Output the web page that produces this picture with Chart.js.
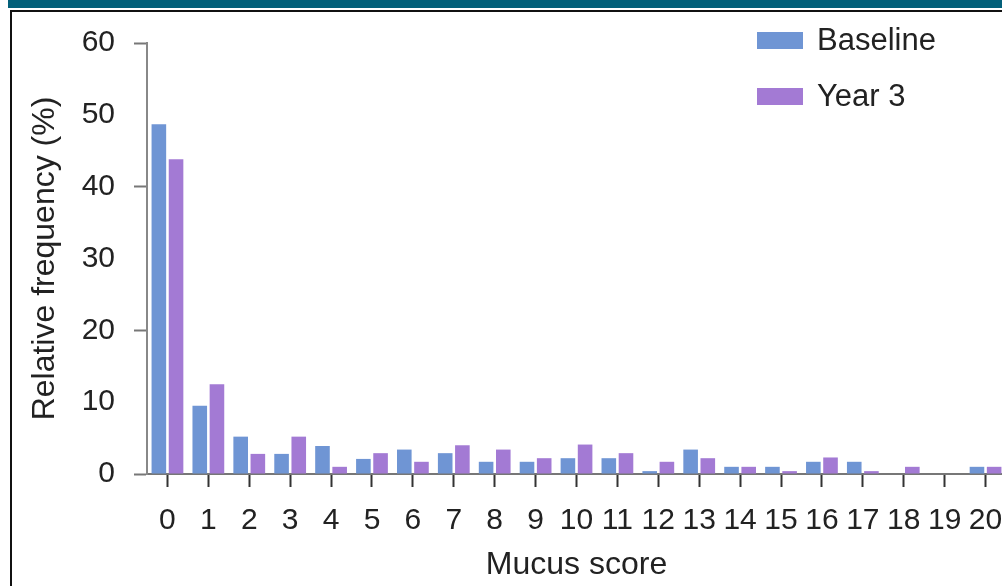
<!DOCTYPE html>
<html>
<head>
<meta charset="utf-8">
<script src="https://cdn.jsdelivr.net/npm/chart.js@4.4.1/dist/chart.umd.min.js"></script>
<style>
    html, body {
        margin: 0;
        padding: 0;
        background: #fff;
        overflow: hidden;
        width: 1002px;
        height: 586px;
    }
    #top-band {
        position: absolute;
        left: 8px;
        top: 0;
        width: 994px;
        height: 8px;
        background: #03607a;
    }
    #frame {
        position: absolute;
        left: 10px;
        top: 10px;
        width: 1000px;
        height: 590px;
        border-left: 2px solid #111;
        border-top: 2px solid #111;
    }
    #chart-box {
        position: absolute;
        left: 0;
        top: 0;
        width: 1026px;
        height: 586px;
    }
    #legend {
        position: absolute;
        left: 757px;
        top: 22px;
        font-family: "Liberation Sans", Arial, sans-serif;
        font-size: 31px;
        color: #222;
    }
    .legend-row {
        display: flex;
        align-items: center;
        height: 36px;
        margin-bottom: 20px;
    }
    .legend-swatch {
        width: 46px;
        height: 17px;
        margin-right: 14px;
    }
</style>
</head>
<body>
<div id="top-band"></div>
<div id="frame"></div>
<div id="chart-box"><canvas id="main-chart"></canvas></div>
<div id="legend"></div>

<script>
const scores = ['0', '1', '2', '3', '4', '5', '6', '7', '8', '9', '10',
    '11', '12', '13', '14', '15', '16', '17', '18', '19', '20'];

const baseline = [48.7, 9.5, 5.2, 2.8, 3.9, 2.1, 3.4, 2.9, 1.7, 1.7, 2.2,
    2.2, 0.4, 3.4, 1.0, 1.0, 1.7, 1.7, 0, 0, 1.0];

const year_3 = [43.8, 12.5, 2.8, 5.2, 1.0, 2.9, 1.7, 4.0, 3.4, 2.2, 4.1,
    2.9, 1.7, 2.2, 1.0, 0.4, 2.3, 0.4, 1.0, 0, 1.0];

const y_ticks = [0, 10, 20, 30, 40, 50, 60];

const sans = "'Liberation Sans', Arial, sans-serif";

const data = {
    labels: scores,
    datasets: [{
        label: 'Baseline',
        backgroundColor: '#6f95d4',
        data: baseline,
    }, {
        label: 'Year 3',
        backgroundColor: '#a37ad4',
        data: year_3,
    }]
};

const config = {
    type: 'bar',
    data: data,
    options: {
        responsive: true,
        maintainAspectRatio: false,
        animation: false,
        layout: {
            padding: { top: 43, right: 20, bottom: 0, left: 0 }
        },
        datasets: {
            bar: {
                barPercentage: 0.85,
                categoryPercentage: 0.84,
            }
        },
        plugins: {
            legend: { display: false },
            tooltip: { enabled: false },
        },
        scales: {
            x: {
                offset: true,
                afterFit: (scale) => { scale.height = 112; },
                grid: {
                    offset: false,
                    drawOnChartArea: false,
                    tickLength: 13,
                    tickWidth: 2,
                    tickColor: '#333',
                },
                border: { display: true, color: '#777', width: 2 },
                ticks: {
                    autoSkip: false,
                    maxRotation: 0,
                    padding: 16,
                    color: '#222',
                    font: { family: sans, size: 30 },
                },
                title: {
                    display: true,
                    text: 'Mucus score',
                    color: '#222',
                    font: { family: sans, size: 32 },
                    padding: { top: 0, bottom: 2 },
                },
            },
            y: {
                min: 0,
                max: 60,
                afterFit: (scale) => { scale.width = 147; },
                afterBuildTicks: (scale) => {
                    scale.ticks = y_ticks.map(v => ({ value: v }));
                },
                grid: {
                    drawOnChartArea: false,
                    tickLength: 13,
                    tickWidth: 2,
                    tickColor: (ctx) => ctx.tick && ctx.tick.value % 20 === 0 ? '#777' : 'rgba(0,0,0,0)',
                },
                border: { display: true, color: '#888', width: 2 },
                ticks: {
                    padding: 19,
                    color: '#222',
                    font: { family: sans, size: 30 },
                },
                title: {
                    display: true,
                    text: 'Relative frequency (%)',
                    color: '#222',
                    font: { family: sans, size: 32 },
                    padding: { top: 26, bottom: 0 },
                },
            },
        },
    }
};

const myChart = new Chart(
    document.getElementById('main-chart'),
    config
);

// legend stacked at the top right, built from the datasets
const legend = document.getElementById('legend');
myChart.data.datasets.forEach((ds) => {
    const row = document.createElement('div');
    row.className = 'legend-row';
    const swatch = document.createElement('div');
    swatch.className = 'legend-swatch';
    swatch.style.background = ds.backgroundColor;
    const text = document.createElement('span');
    text.textContent = ds.label;
    row.appendChild(swatch);
    row.appendChild(text);
    legend.appendChild(row);
});
</script>
</body>
</html>
